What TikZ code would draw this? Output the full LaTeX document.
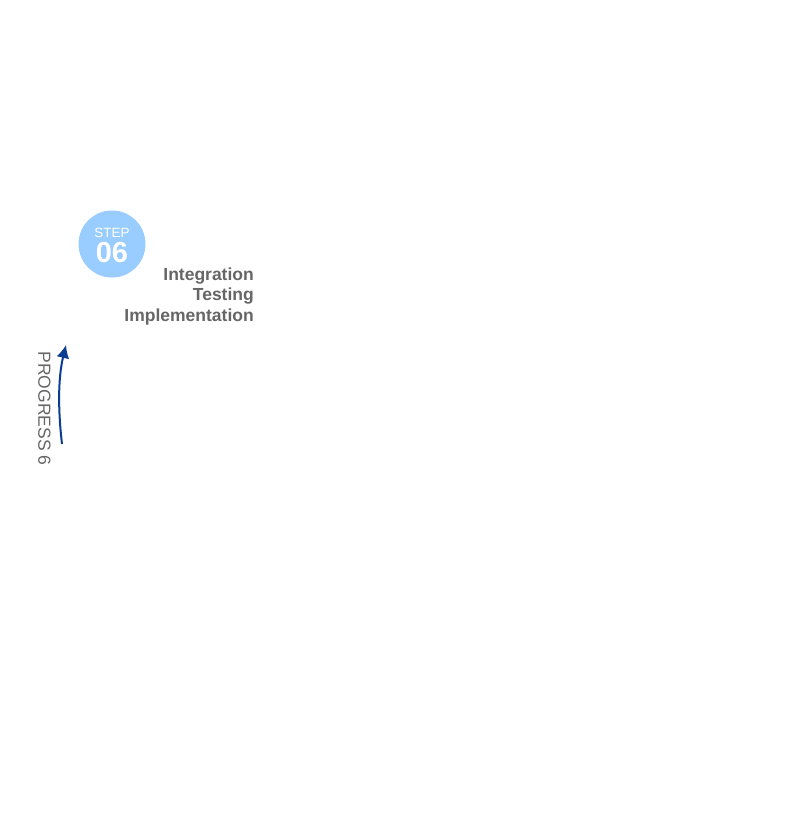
\documentclass[tikz,border=0pt]{standalone}
\usepackage{fontspec}
\setmainfont{Liberation Sans}
\usetikzlibrary{positioning, arrows.meta}
\definecolor{stepblue}{HTML}{99CCFF}
\definecolor{arrowblue}{HTML}{0A3D91}
\definecolor{textgray}{HTML}{666666}
\begin{document}
\begin{tikzpicture}[>={Latex[length=13pt,width=13pt]}, x=1pt, y=-1pt,
    stepcircle/.style={circle, fill=stepblue, minimum size=67pt, inner sep=0pt},
    tasktext/.style={anchor=east, inner sep=0pt, text=textgray, font=\fontsize{17.5}{20}\selectfont\bfseries}]
    \useasboundingbox (0,0) rectangle (792,817);
    % Step circle
    \node[stepcircle] (step6) at (112,244) {};
    \node[text=white, font=\fontsize{13.5}{14}\selectfont, inner sep=0pt] (steplabel) at (112,232.5) {STEP};
    \node[text=white, font=\fontsize{29}{30}\selectfont\bfseries, inner sep=0pt] (stepnum) at (112,252.5) {06};
    % Tasks
    \node[tasktext] (integration) at (254,276.5) {Integration};
    \node[tasktext] (testing) at (254,296.5) {Testing};
    \node[tasktext] (implementation) at (254,316.5) {Implementation};
    % Progress arrow
    \coordinate (arrowstart) at (62,444);
    \coordinate (arrowend) at (66,345);
    \draw[->, arrowblue, line width=2pt] (arrowstart) .. controls (58,410) and (58,378) .. (arrowend);
    \node[rotate=-90, text=textgray, font=\fontsize{17.5}{20}\selectfont, inner sep=0pt] (progress) at (44.5,408.5) {PROGRESS 6};
\end{tikzpicture}
\end{document}
